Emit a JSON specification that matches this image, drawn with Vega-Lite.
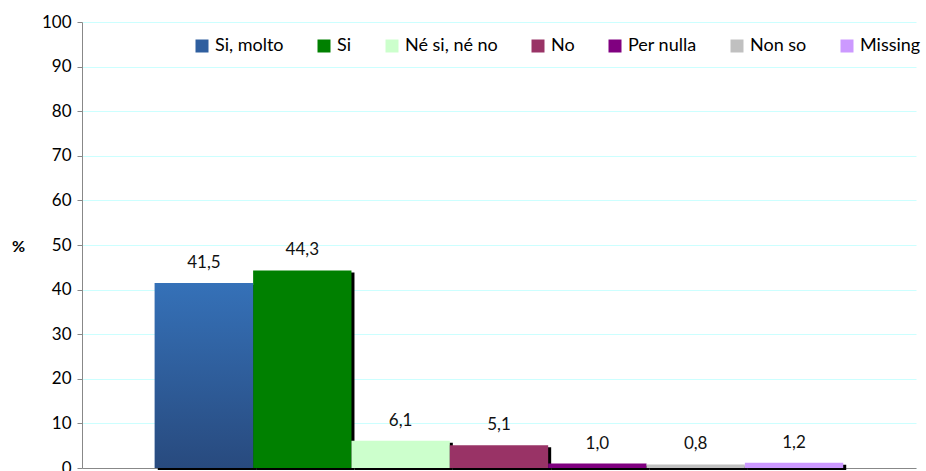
{
  "$schema": "https://vega.github.io/schema/vega-lite/v6.json",
  "width": 834,
  "height": 446,
  "autosize": {"type": "none"},
  "padding": {"left": 82, "top": 22, "right": 10, "bottom": 3},
  "background": "white",
  "config": {
    "view": {"stroke": null},
    "font": "Lato",
    "axis": {"labelFont": "Lato", "titleFont": "Lato"},
    "legend": {"labelFont": "Lato"}
  },
  "data": {
    "values": [
      {"cat": "Si, molto", "value": 41.5, "label": "41,5"},
      {"cat": "Si", "value": 44.3, "label": "44,3"},
      {"cat": "Né si, né no", "value": 6.1, "label": "6,1"},
      {"cat": "No", "value": 5.1, "label": "5,1"},
      {"cat": "Per nulla", "value": 1.0, "label": "1,0"},
      {"cat": "Non so", "value": 0.8, "label": "0,8"},
      {"cat": "Missing", "value": 1.2, "label": "1,2"}
    ]
  },
  "encoding": {
    "x": {
      "field": "cat", "type": "nominal", "sort": null,
      "scale": {"paddingInner": 0, "paddingOuter": 0.74},
      "axis": {"labels": false, "ticks": false, "title": null, "domainColor": "#888888", "domainWidth": 1}
    },
    "y": {
      "field": "value", "type": "quantitative",
      "scale": {"domain": [0, 100], "nice": false},
      "axis": {
        "values": [0, 10, 20, 30, 40, 50, 60, 70, 80, 90, 100],
        "title": "%", "titleAngle": 0, "titleFontSize": 16, "titleFontWeight": "bold",
        "titleX": -64, "titleY": 232, "titleColor": "black",
        "labelFontSize": 17, "labelColor": "black", "labelPadding": 6,
        "tickSize": 5, "tickColor": "#888888", "domainColor": "#888888",
        "gridColor": "#ccffff", "gridWidth": 1
      }
    }
  },
  "layer": [
    {
      "mark": {"type": "bar", "color": "black", "xOffset": 3, "yOffset": 2},
      "encoding": {}
    },
    {
      "mark": {"type": "bar"},
      "encoding": {
        "color": {
          "field": "cat", "type": "nominal", "sort": null,
          "scale": {
            "domain": ["Si, molto", "Si", "Né si, né no", "No", "Per nulla", "Non so", "Missing"],
            "range": ["#2f5f9f", "#008000", "#ccffcc", "#993366", "#800080", "#c0c0c0", "#cc99ff"]
          },
          "legend": {
            "title": null, "orient": "none", "direction": "horizontal",
            "legendX": 111, "legendY": 15, "symbolType": "square", "symbolSize": 169,
            "symbolStrokeWidth": 0, "labelFontSize": 18, "labelColor": "black",
            "columnPadding": 31, "labelOffset": 4, "padding": 0
          }
        }
      }
    },
    {
      "transform": [{"filter": "datum.cat === 'Si, molto'"}],
      "mark": {
        "type": "bar",
        "color": {
          "x1": 0, "y1": 0, "x2": 0, "y2": 1, "gradient": "linear",
          "stops": [{"offset": 0, "color": "#3571b8"}, {"offset": 1, "color": "#284a7e"}]
        }
      },
      "encoding": {}
    },
    {
      "mark": {"type": "text", "baseline": "bottom", "dy": -11, "fontSize": 17, "color": "#111111"},
      "encoding": {"text": {"field": "label"}}
    }
  ]
}
